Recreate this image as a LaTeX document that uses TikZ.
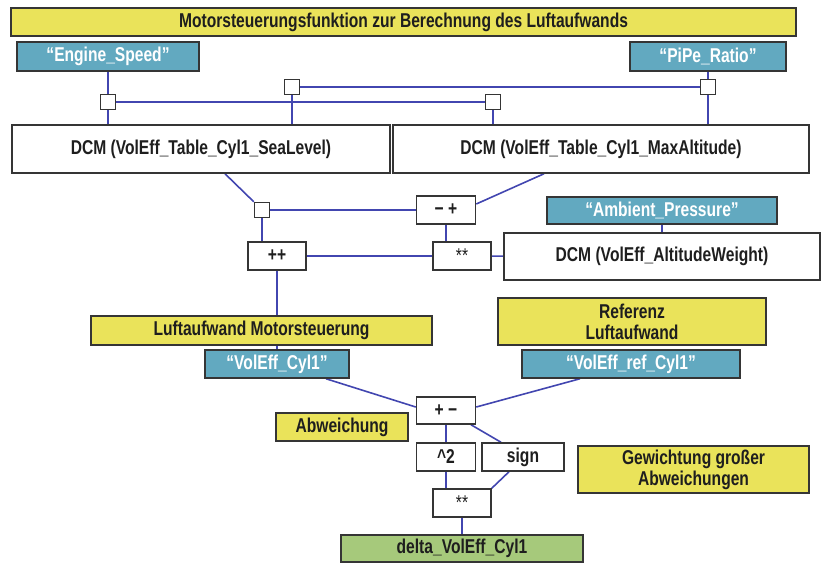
\documentclass[tikz,border=0pt]{standalone}
\usepackage{fontspec}
\setmainfont{Liberation Sans}[FakeStretch=0.78]
\usetikzlibrary{backgrounds}
\definecolor{notefill}{HTML}{EAE35A}
\definecolor{sigfill}{HTML}{62A9C0}
\definecolor{resfill}{HTML}{A6C97B}
\definecolor{wireblue}{HTML}{4246B0}
\definecolor{ink}{HTML}{1E1E1E}
\begin{document}
\begin{tikzpicture}[
  x=1pt, y=-1pt,
  every node/.style={font=\fontsize{20}{21}\selectfont\bfseries, text=ink,
    inner sep=0pt, line width=1.5pt, draw=ink!90},
  block/.style={fill=white, minimum width=#1, minimum height=28},
  note/.style={fill=notefill, minimum width=#1, minimum height=28},
  signal/.style={fill=sigfill, text=white, minimum width=#1, minimum height=28},
  junc/.style={fill=white, minimum size=15},
  wire/.style={wireblue, line width=1.6pt}]
\useasboundingbox (0,0) rectangle (821,563);
% header and inputs
\node [note=785] (title) at (403.5,22) {Motorsteuerungsfunktion zur Berechnung des Luftaufwands};
\node [signal=182, minimum height=29] (engine) at (108,56.5) {“Engine\_Speed”};
\node [signal=156, minimum height=29] (pipe) at (708,56.5) {“PiPe\_Ratio”};
\foreach \n/\x/\y in {j1/108/102, j2/292/87, j3/493/102, j4/708/87, j5/262/210}
  \node [junc] (\n) at (\x,\y) {};
% tables
\node [block=378, minimum height=48] (dcma) at (201,149) {DCM (VolEff\_Table\_Cyl1\_SeaLevel)};
\node [block=416, minimum height=48] (dcmb) at (601,149) {DCM (VolEff\_Table\_Cyl1\_MaxAltitude)};
\node [block=59] (mp) at (446,210) {− +};
\node [signal=230, minimum height=27] (amb) at (662,210.5) {“Ambient\_Pressure”};
\node [block=316, minimum height=47] (dcmc) at (662,256.5) {DCM (VolEff\_AltitudeWeight)};
\node [block=58] (pp) at (277,256) {++};
\node [block=58, font=\fontsize{20}{21}\selectfont] (mula) at (462,256) {**};
% comparison
\node [note=341, minimum height=29] (lmot) at (261.5,330.5) {Luftaufwand Motorsteuerung};
\node [note=268, minimum height=47, align=center] (lref) at (632,321.5) {Referenz\\Luftaufwand};
\node [signal=144] (vcyl) at (277,364) {“VolEff\_Cyl1”};
\node [signal=218] (vref) at (631,364) {“VolEff\_ref\_Cyl1”};
\node [block=59, minimum height=27] (pm) at (446,410.5) {+ −};
\node [note=132] (abw) at (342,427) {Abweichung};
\node [block=59] (sq) at (446,457) {\textasciicircum 2};
\node [block=82] (sgn) at (523,457) {sign};
\node [note=231, minimum height=47, align=center] (gew) at (693.5,469.5) {Gewichtung großer\\Abweichungen};
\node [block=58, font=\fontsize{20}{21}\selectfont] (mulb) at (462,503) {**};
\node [fill=resfill, minimum width=242, minimum height=27] (delta) at (462,548.5) {delta\_VolEff\_Cyl1};
\begin{pgfonlayer}{background}
  \draw [wire] (engine) -- (j1) -- (j1 |- dcma.north);
  \draw [wire] (pipe) -- (j4) -- (j4 |- dcmb.north);
  \draw [wire] (j1) -- (j3) -- (j3 |- dcmb.north);
  \draw [wire] (j2) -- (j4);
  \draw [wire] (j2) -- (j2 |- dcma.north);
  \draw [wire] ([xshift=24pt]dcma.south) -- (j5.north west);
  \draw [wire] (j5) -- (mp);
  \draw [wire] ([yshift=6pt]mp.east) -- ([xshift=-57pt]dcmb.south);
  \draw [wire] (mp.south) -- (mp.south |- mula.north);
  \draw [wire] (amb) -- (dcmc);
  \draw [wire] (mula) -- (dcmc);
  \draw [wire] (pp) -- (mula);
  \draw [wire] (j5) -- (j5 |- pp.north);
  \draw [wire] (pp.south) -- (pp.south |- vcyl.north);
  \draw [wire] ([xshift=49pt]vcyl.south) -- ([yshift=3.5pt]pm.west);
  \draw [wire] ([xshift=-51pt]vref.south) -- ([yshift=3.5pt]pm.east);
  \draw [wire] (pm) -- (sq);
  \draw [wire] ([xshift=25pt]pm.south) -- ([xshift=-22pt]sgn.north);
  \draw [wire] (sq.south) -- (sq.south |- mulb.north);
  \draw [wire] ([xshift=-14pt]sgn.south) -- (mulb.north east);
  \draw [wire] (mulb) -- (delta);
\end{pgfonlayer}
\end{tikzpicture}
\end{document}
